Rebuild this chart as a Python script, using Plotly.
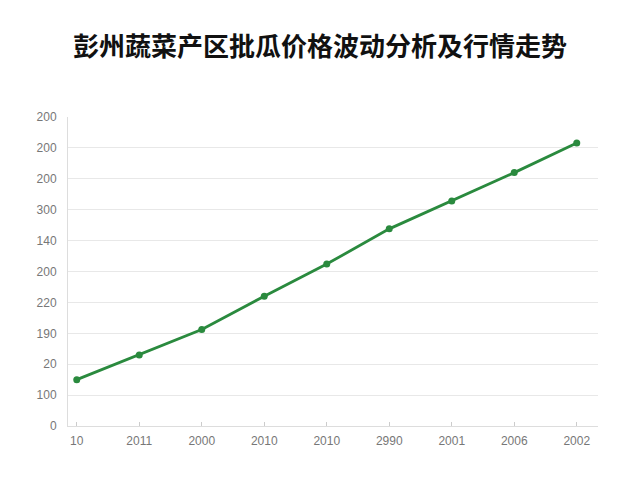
import plotly.graph_objects as go

x_labels = ["10", "2011", "2000", "2010", "2010", "2990", "2001", "2006", "2002"]
prices = [75, 115, 156, 210, 262, 319, 364, 410, 458]
y_tick_vals = [0, 50, 100, 150, 200, 250, 300, 350, 400, 450, 500]
y_tick_text = ["0", "100", "20", "190", "220", "200", "140", "300", "200", "200", "200"]

x_pos = list(range(len(x_labels)))

fig = go.Figure()
fig.add_trace(go.Scatter(
    x=x_pos, y=prices, mode="lines+markers",
    line=dict(color="#2a8a3e", width=2.8),
    marker=dict(color="#2a8a3e", size=7),
    hoverinfo="skip",
))

fig.update_layout(
    width=640, height=480,
    paper_bgcolor="white", plot_bgcolor="white",
    margin=dict(l=60, r=50, t=109, b=62),
    showlegend=False,
    title=dict(
        text="<b>彭州蔬菜产区批瓜价格波动分析及行情走势</b>",
        x=0.4875, xanchor="center", y=0.919, yanchor="middle",
        font=dict(family="Noto Sans CJK SC", size=26, color="#111111"),
    ),
    font=dict(family="Liberation Sans, Arial", size=12, color="#777777"),
)
fig.update_xaxes(
    range=[-0.14, 8.34], tickvals=x_pos, ticktext=x_labels,
    showgrid=False, showline=True, linecolor="#dddddd", linewidth=1,
    ticks="inside", ticklen=4, tickcolor="#cccccc", ticklabelstandoff=4,
    tickfont=dict(size=12, color="#777777"), zeroline=False,
)
fig.update_yaxes(
    range=[0, 500], tickvals=y_tick_vals, ticktext=y_tick_text,
    showgrid=True, gridcolor="#e8e8e8", gridwidth=1,
    showline=True, linecolor="#dddddd", linewidth=1,
    ticks="", ticklabelstandoff=8,
    tickfont=dict(size=12, color="#777777"), zeroline=False,
)

fig.write_html("out.html")
